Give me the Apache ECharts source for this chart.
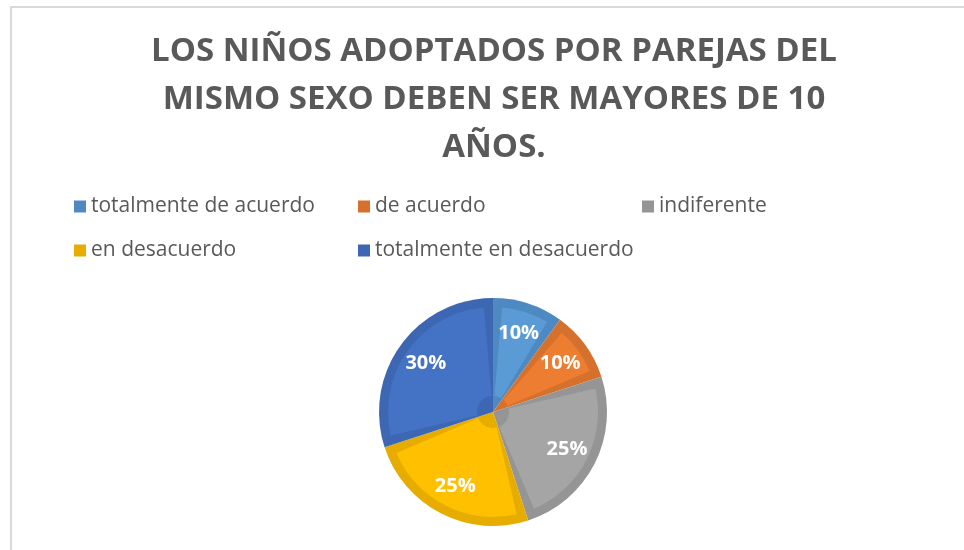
<!DOCTYPE html>
<html>
<head>
<meta charset="utf-8">
<script src="https://cdn.jsdelivr.net/npm/echarts@6/dist/echarts.min.js"></script>
<style>
  html, body { margin: 0; padding: 0; background: #fff; overflow: hidden; }
  #main {
    position: absolute; left: 10px; top: 6px;
    width: 964px; height: 544px;
    border-top: 2px solid #d9d9d9; border-left: 2px solid #d9d9d9;
  }
</style>
</head>
<body>
<div id="main"></div>
<script>
  // datos del gráfico
  var titulo = 'LOS NIÑOS ADOPTADOS POR PAREJAS DEL\nMISMO SEXO DEBEN SER MAYORES DE 10\nAÑOS.';
  var categorias = ['totalmente de acuerdo', 'de acuerdo', 'indiferente', 'en desacuerdo', 'totalmente en desacuerdo'];
  var porcentajes = [10, 10, 25, 25, 30];
  // colores: relleno claro y borde oscuro (estilo Excel)
  var rellenos = ['#5b9bd5', '#ed7d31', '#a5a5a5', '#ffc000', '#4472c4'];
  var bordes = ['#4f89c2', '#d6712d', '#959595', '#e6ad00', '#3d67b3'];

  var chart = echarts.init(document.getElementById('main'));

  var centro = [481, 404];
  var fuente = '"Open Sans", sans-serif';

  function datos(colores) {
    return categorias.map(function (c, i) {
      return { name: c, value: porcentajes[i], itemStyle: { color: colores ? colores[i] : 'transparent' } };
    });
  }

  chart.setOption({
    animation: false,
    title: {
      text: titulo,
      left: 'center',
      top: 20,
      padding: 0,
      textStyle: {
        fontFamily: fuente,
        fontSize: 33,
        fontWeight: 'bold',
        color: '#595959',
        lineHeight: 48
      }
    },
    legend: {
      left: 62,
      top: 179,
      width: 880,
      padding: 0,
      itemWidth: 12,
      itemHeight: 12,
      itemGap: 5,
      icon: 'rect',
      data: categorias,
      textStyle: {
        fontFamily: fuente,
        fontSize: 21,
        color: '#595959',
        width: 262,
        lineHeight: 39,
        overflow: 'truncate'
      }
    },
    series: [
      {
        // borde oscuro
        type: 'pie',
        center: centro,
        radius: [0, 114],
        startAngle: 90,
        clockwise: true,
        silent: true,
        label: { show: false },
        labelLine: { show: false },
        data: datos(bordes)
      },
      {
        // relleno claro interior
        type: 'pie',
        center: centro,
        radius: [16, 105],
        startAngle: 90,
        clockwise: true,
        padAngle: 10,
        silent: true,
        label: { show: false },
        labelLine: { show: false },
        data: datos(rellenos)
      },
      {
        // etiquetas
        type: 'pie',
        center: centro,
        radius: [48, 112],
        startAngle: 90,
        clockwise: true,
        silent: true,
        labelLine: { show: false },
        label: {
          show: true,
          position: 'inside',
          formatter: '{c}%',
          fontFamily: fuente,
          fontSize: 20,
          fontWeight: 'bold',
          color: '#ffffff'
        },
        data: datos(null)
      }
    ]
  });
</script>
</body>
</html>
